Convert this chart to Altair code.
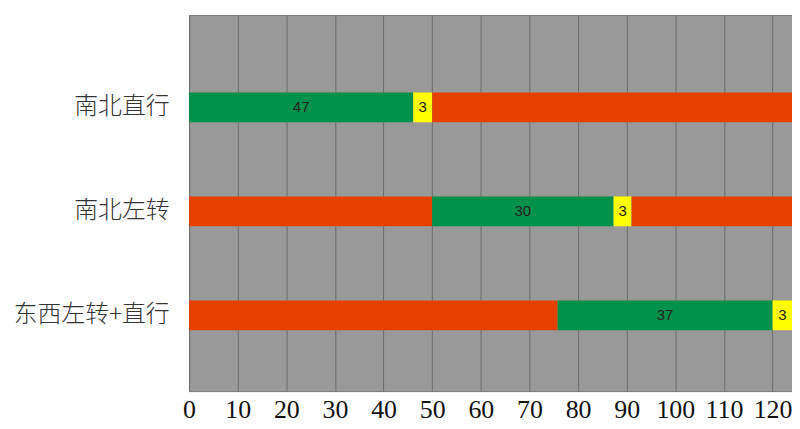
import altair as alt
import pandas as pd

rows = ["南北直行", "南北左转", "东西左转+直行"]

# segments per row (seconds)
seg_row = ["南北直行", "南北直行", "南北直行",
           "南北左转", "南北左转", "南北左转", "南北左转",
           "东西左转+直行", "东西左转+直行", "东西左转+直行"]
seg_start = [0, 46.1, 50, 0, 50, 87.3, 91, 0, 75.8, 120]
seg_end = [46.1, 50, 124, 50, 87.3, 91, 124, 75.8, 120, 124]
seg_phase = ["绿", "黄", "红", "红", "绿", "黄", "红", "红", "绿", "黄"]
seg_label = ["47", "3", "", "", "30", "3", "", "", "37", "3"]

x_ticks = [0, 10, 20, 30, 40, 50, 60, 70, 80, 90, 100, 110, 120]

df = pd.DataFrame({"row": seg_row, "start": seg_start, "end": seg_end,
                   "phase": seg_phase, "label": seg_label})

x_scale = alt.Scale(domain=[0, 124], nice=False, zero=False)
y_scale = alt.Scale(domain=rows, paddingInner=0.713, paddingOuter=0.665, align=0.56)

base = alt.Chart(df)

bars = base.mark_bar(opacity=1).encode(
    x=alt.X("start:Q", scale=x_scale,
            axis=alt.Axis(values=x_ticks, title=None, grid=True, gridColor="#6c6c6c",
                          gridWidth=1, gridOpacity=1, ticks=False, domain=False,
                          labelFont="Liberation Serif", labelFontSize=26,
                          labelColor="#111111", labelPadding=6,
                          labelOverlap=False, labelFlush=False, labelBound=False)),
    x2="end:Q",
    y=alt.Y("row:N", scale=y_scale, sort=rows,
            axis=alt.Axis(title=None, ticks=False, domain=False,
                          labelFont="Noto Sans CJK SC", labelFontSize=24,
                          labelFontWeight=300, labelColor="#333333",
                          labelPadding=20, minExtent=177, maxExtent=177)),
    color=alt.Color("phase:N",
                    scale=alt.Scale(domain=["绿", "黄", "红"],
                                    range=["#00924a", "#ffff00", "#e84000"]),
                    legend=None),
)

texts = base.transform_filter("datum.label != ''").transform_calculate(
    mid="(datum.start + datum.end) / 2"
).mark_text(font="Liberation Sans", fontSize=15, color="#222222", baseline="middle").encode(
    x=alt.X("mid:Q", scale=x_scale),
    y=alt.Y("row:N", scale=y_scale, sort=rows),
    text="label:N",
)

chart = (bars + texts).properties(
    width=606, height=378,
    padding={"left": 5, "top": 6, "right": 0, "bottom": 0},
    background="white",
).configure_view(fill="#999999", stroke="#7a7a7a", strokeWidth=1)

chart.save("out.html", embed_options={"renderer": "svg", "actions": False})
